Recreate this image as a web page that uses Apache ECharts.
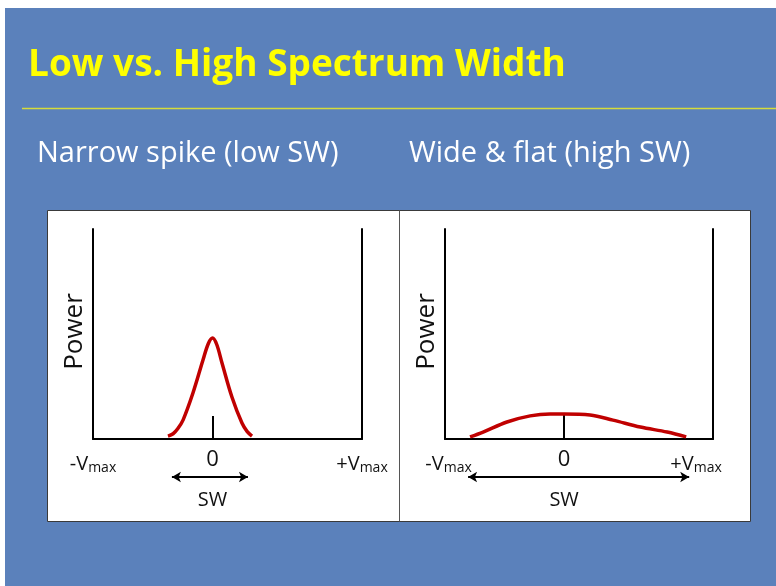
<!DOCTYPE html>
<html><head><meta charset="utf-8">
<script src="https://cdn.jsdelivr.net/npm/echarts@6/dist/echarts.min.js"></script>
<style>html,body{margin:0;padding:0;background:#ffffff}#c{width:776px;height:586px}</style>
</head><body><div id="c"></div><script>
// ---- data ----
const titleText = 'Low vs. High Spectrum Width';
const panelTitles = ['Narrow spike (low SW)', 'Wide & flat (high SW)'];
const yAxisName = 'Power';
const arrowLabel = 'SW';
const tickLabels = ['-Vmax', '0', '+Vmax'];
const leftTickValues = [-1, 0, 1.25];
const rightTickValues = [-0.97, 0, 1.108];
// narrow spike (velocity normalised, power normalised)
const narrowX = [-0.373, -0.33, -0.29, -0.247, -0.164, -0.08, -0.035, 0, 0.035, 0.079, 0.162, 0.246, 0.29, 0.33];
const narrowY = [0.014, 0.025, 0.05, 0.09, 0.219, 0.376, 0.455, 0.481, 0.45, 0.362, 0.2, 0.076, 0.035, 0.014];
// wide and flat
const wideX = [-0.79, -0.68, -0.48, -0.285, -0.118, 0, 0.218, 0.41, 0.64, 0.865, 1.025];
const wideY = [0.01, 0.033, 0.081, 0.11, 0.119, 0.119, 0.114, 0.09, 0.057, 0.033, 0.01];
// SW arrows (start, end velocity)
const narrowSW = [-0.34, 0.296];
const wideSW = [-0.806, 1.05];
const xMin = -1, xMax = 1.25;

const FONT = 'Open Sans';
const chart = echarts.init(document.getElementById('c'));

function labelFmt(values) {
  return function (v) {
    let i = values.findIndex(t => Math.abs(t - v) < 1e-6);
    if (i < 0) return '';
    const t = tickLabels[i];
    if (t.indexOf('max') >= 0) return '{v|' + t.replace('max', '') + '}{s|max}';
    return '{z|' + t + '}';
  };
}
const richLab = {
  v: { fontSize: 20, lineHeight: 29, color: '#111', fontFamily: FONT, verticalAlign: 'middle' },
  s: { fontSize: 14, lineHeight: 14, padding: [8, 0, 0, 0], color: '#111', fontFamily: FONT, verticalAlign: 'middle' },
  z: { fontSize: 22, lineHeight: 20, color: '#111', fontFamily: FONT, verticalAlign: 'middle' },
  w: { fontSize: 20, lineHeight: 20, color: '#111', fontFamily: FONT, verticalAlign: 'middle' }
};
function xAx(idx, values, tickLen) {
  return {
    type: 'value', gridIndex: idx, min: xMin, max: xMax,
    axisLine: { show: true, onZero: false, lineStyle: { color: '#000', width: 2 } },
    axisTick: { show: true, inside: true, length: tickLen, customValues: [0], lineStyle: { color: '#000', width: 2 } },
    axisLabel: { show: true, margin: 11, customValues: values, formatter: labelFmt(values), rich: richLab },
    splitLine: { show: false }
  };
}
function xArrowAxis(idx) {
  return {
    type: 'value', gridIndex: idx, min: xMin, max: xMax,
    axisLine: { show: false }, axisTick: { show: false }, splitLine: { show: false },
    axisLabel: { show: true, margin: 3, customValues: [0], formatter: () => '{w|' + arrowLabel + '}', rich: richLab }
  };
}
function yAx(idx, pos, named) {
  return {
    type: 'value', gridIndex: idx, min: 0, max: 1, position: pos,
    name: named ? yAxisName : '', nameLocation: 'middle', nameRotate: 90, nameGap: 5,
    nameTextStyle: { fontSize: 26, color: '#111', fontFamily: FONT, padding: [0, 0, 0, 5] },
    axisLine: { show: true, onZero: false, lineStyle: { color: '#000', width: 2 } },
    axisTick: { show: false }, axisLabel: { show: false }, splitLine: { show: false }
  };
}
function yHidden(idx) {
  return { type: 'value', gridIndex: idx, min: -1, max: 1, show: false, splitLine: { show: false } };
}
function curve(idx, xs, ys) {
  return {
    type: 'line', xAxisIndex: idx, yAxisIndex: idx * 2, smooth: 0.35, showSymbol: false, clip: false,
    lineStyle: { color: '#c00000', width: 3.5 },
    data: xs.map((x, i) => [x, ys[i]])
  };
}
function arrow(xIdx, yIdx, sw) {
  return {
    type: 'line', xAxisIndex: xIdx, yAxisIndex: yIdx, data: [], showSymbol: false, silent: true,
    markLine: {
      silent: true, symbol: ['arrow', 'arrow'], symbolSize: [8, 9],
      lineStyle: { color: '#000', width: 2, type: 'solid' },
      label: { show: false },
      emphasis: { disabled: true },
      data: [[{ coord: [sw[0], 0] }, { coord: [sw[1], 0] }]]
    }
  };
}

chart.setOption({
  animation: false,
  backgroundColor: '#ffffff',
  title: [
    { text: titleText, left: 28, top: 47, padding: 0, textStyle: { color: '#ffff00', fontSize: 37, fontWeight: 'bold', fontFamily: FONT } },
    { text: panelTitles[0], left: 37, top: 139, padding: 0, textStyle: { color: '#ffffff', fontSize: 29, fontWeight: 'normal', fontFamily: FONT } },
    { text: panelTitles[1], left: 409, top: 139, padding: 0, textStyle: { color: '#ffffff', fontSize: 29, fontWeight: 'normal', fontFamily: FONT } }
  ],
  graphic: [
    { type: 'rect', z: -20, shape: { x: 5, y: 8, width: 771, height: 578 }, style: { fill: '#5b81bb' } },
    { type: 'line', z: -19, shape: { x1: 22, y1: 108.5, x2: 776, y2: 108.5 }, style: { stroke: '#d6dc3a', lineWidth: 1.5 } },
    { type: 'rect', z: -18, shape: { x: 47.5, y: 210.5, width: 703, height: 311 }, style: { fill: '#ffffff', stroke: '#3a3a3a', lineWidth: 1 } },
    { type: 'line', z: -17, shape: { x1: 399.5, y1: 210.5, x2: 399.5, y2: 521.5 }, style: { stroke: '#555555', lineWidth: 1 } }
  ],
  grid: [
    { left: 93, top: 229, width: 269, height: 210 },
    { left: 445, top: 229, width: 268, height: 210 },
    { left: 93, top: 467, width: 269, height: 20 },
    { left: 445, top: 467, width: 268, height: 20 }
  ],
  xAxis: [xAx(0, leftTickValues, 23), xAx(1, rightTickValues, 25), xArrowAxis(2), xArrowAxis(3)],
  yAxis: [yAx(0, 'left', true), yAx(0, 'right', false), yAx(1, 'left', true), yAx(1, 'right', false), yHidden(2), yHidden(3)],
  series: [curve(0, narrowX, narrowY), curve(1, wideX, wideY), arrow(2, 4, narrowSW), arrow(3, 5, wideSW)]
});
</script></body></html>
